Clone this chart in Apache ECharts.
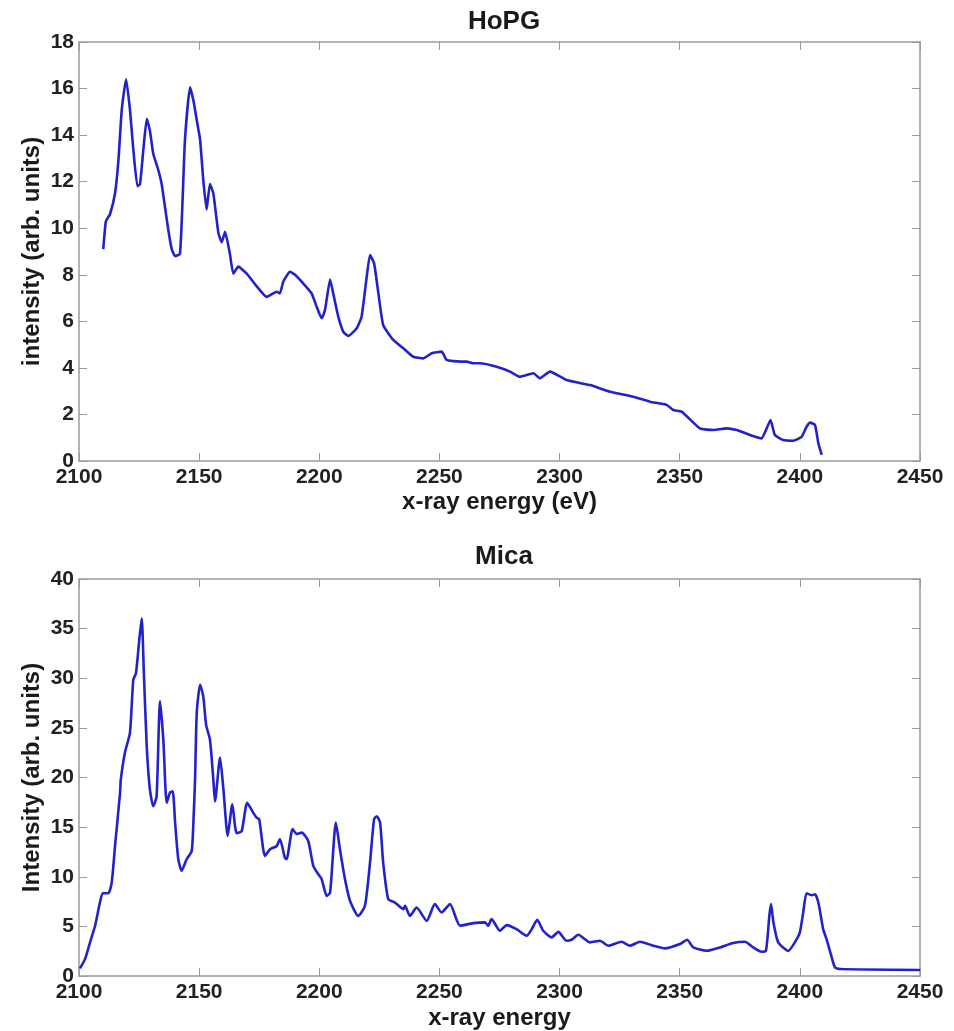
<!DOCTYPE html>
<html>
<head>
<meta charset="utf-8">
<script src="https://cdn.jsdelivr.net/npm/echarts@6/dist/echarts.min.js"></script>
<style>
html,body{margin:0;padding:0;background:#fff;}
#chart{width:954px;height:1031px;}
</style>
</head>
<body>
<div id="chart"></div>
<script>
var hopgEnergy = [2110.1,2111.2,2112.9,2115.0,2116.4,2117.8,2119.6,2121.2,2122.6,2124.3,2125.4,2126.8,2128.2,2129.5,2130.9,2133.0,2134.4,2135.8,2137.2,2138.6,2140.0,2142.0,2143.1,2144.1,2146.2,2147.6,2149.0,2150.4,2151.7,2153.1,2154.5,2155.9,2158.0,2159.4,2160.8,2162.8,2164.2,2166.3,2169.8,2174.0,2178.1,2182.3,2183.6,2185.0,2187.8,2189.9,2193.3,2196.8,2198.9,2201.0,2202.4,2204.5,2205.8,2207.9,2210.0,2212.1,2215.6,2217.6,2219.4,2221.1,2222.8,2224.6,2226.6,2230.8,2235.0,2239.1,2243.3,2246.8,2250.9,2253.0,2258.6,2261.3,2264.1,2266.9,2273.8,2279.4,2283.5,2289.1,2291.8,2296.0,2302.9,2312.7,2321.0,2330.7,2337.6,2344.6,2347.3,2350.8,2358.4,2364.0,2369.5,2373.7,2379.2,2384.1,2385.9,2387.8,2389.6,2393.1,2397.3,2400.7,2402.8,2404.2,2406.3,2407.7,2409.1];
var hopgIntensity = [9.1,10.3,10.6,11.5,12.9,15.1,16.4,15.1,13.4,11.8,11.9,13.4,14.7,14.2,13.2,12.5,11.9,10.9,9.9,9.1,8.8,8.9,11.2,13.8,16.05,15.5,14.65,13.8,12.1,10.8,11.9,11.5,9.8,9.4,9.85,8.9,8.05,8.35,8.05,7.5,7.05,7.27,7.2,7.7,8.13,8.0,7.63,7.2,6.63,6.13,6.5,7.8,7.2,6.2,5.55,5.37,5.7,6.2,7.63,8.85,8.5,7.2,5.84,5.2,4.84,4.48,4.41,4.63,4.7,4.34,4.27,4.27,4.2,4.2,4.05,3.84,3.62,3.77,3.55,3.84,3.48,3.26,2.98,2.76,2.55,2.41,2.19,2.12,1.4,1.33,1.4,1.33,1.12,0.97,1.33,1.76,1.12,0.9,0.87,1.04,1.47,1.65,1.55,0.76,0.26];

var micaEnergy = [2100.4,2102.5,2104.6,2106.7,2108.7,2109.9,2112.2,2113.6,2115.0,2117.1,2117.4,2119.1,2121.2,2122.6,2123.7,2125.1,2126.1,2127.0,2128.2,2129.5,2130.9,2132.3,2133.7,2135.1,2136.5,2137.9,2139.0,2140.0,2141.3,2142.7,2144.8,2146.9,2147.6,2148.3,2149.0,2150.4,2151.7,2152.9,2154.5,2155.9,2156.6,2158.7,2160.1,2161.9,2163.8,2165.6,2167.7,2170.0,2172.5,2173.9,2175.0,2177.4,2179.5,2182.3,2183.6,2185.7,2186.4,2188.9,2190.6,2192.7,2195.4,2197.5,2199.6,2201.0,2203.1,2204.5,2206.9,2208.6,2210.7,2212.8,2216.2,2219.0,2221.1,2222.8,2223.9,2225.3,2226.6,2228.7,2231.5,2235.0,2235.7,2237.7,2240.5,2244.7,2248.1,2250.9,2254.4,2258.6,2264.1,2269.0,2270.3,2271.7,2275.2,2278.0,2282.1,2286.3,2288.4,2290.7,2293.2,2296.7,2299.5,2302.9,2305.0,2307.8,2312.7,2316.8,2320.3,2325.8,2329.3,2333.5,2339.0,2343.9,2350.1,2353.1,2355.6,2361.2,2366.7,2372.3,2377.1,2380.6,2384.1,2385.9,2387.3,2388.0,2389.0,2391.0,2395.2,2398.7,2400.0,2401.4,2402.8,2404.9,2406.3,2407.7,2409.7,2411.1,2412.5,2414.6,2416.7,2450.0];
var micaIntensity = [0.77,1.7,3.4,5.06,7.4,8.34,8.34,9.4,13.1,18.5,19.8,22.5,24.5,29.85,30.5,33.9,36.05,30.5,23.1,18.8,17.1,18.1,27.7,23.8,17.45,18.5,18.6,15.45,11.8,10.6,11.76,12.6,15.45,19.8,26.5,29.35,28.2,25.3,23.8,19.8,17.6,22.0,18.8,14.1,17.3,14.4,14.6,17.45,16.45,15.95,15.8,12.1,12.76,13.1,13.8,11.9,11.76,14.8,14.3,14.45,13.6,11.1,10.25,9.75,8.07,8.4,15.45,12.76,9.75,7.57,6.06,7.07,11.4,15.8,16.1,15.45,11.4,7.74,7.4,6.73,7.07,6.06,6.9,5.56,7.24,6.4,7.24,5.06,5.33,5.4,5.06,5.73,4.56,5.13,4.72,4.05,4.72,5.66,4.56,3.89,4.45,3.55,3.65,4.15,3.39,3.55,3.05,3.45,3.05,3.45,3.05,2.78,3.22,3.65,2.88,2.54,2.88,3.32,3.45,2.88,2.44,2.54,6.06,7.24,5.4,3.39,2.54,3.72,4.39,6.4,8.34,8.14,8.24,7.4,4.72,3.72,2.54,0.87,0.7,0.6];

var hopgYTicks = [0,2,4,6,8,10,12,14,16,18];
var micaYTicks = [0,5,10,15,20,25,30,35,40];
var energyTicks = [2100,2150,2200,2250,2300,2350,2400,2450];

function pairs(xs, ys){ return xs.map(function(x,i){ return [x, ys[i]]; }); }

var FONT = 'Liberation Sans, Arial, sans-serif';
var axisGray = '#9a9a9a';
var lineBlue = '#2222cc';

function mkX(grid, main, name, gap){
  return {
    type:'value', gridIndex:grid, min:energyTicks[0], max:energyTicks[energyTicks.length-1], interval:50,
    position: main ? 'bottom' : 'top',
    name: main ? name : '', nameLocation:'middle', nameGap:gap, nameMoveOverlap:false,
    nameTextStyle:{fontFamily:FONT, fontWeight:'bold', fontSize:24, color:'#1a1a1a'},
    axisLine:{show:true, onZero:false, lineStyle:{color:axisGray, width:1.5}},
    axisTick:{show:true, inside:true, length:8, lineStyle:{color:axisGray}},
    axisLabel:{show:main, margin:6, fontFamily:FONT, fontWeight:'bold', fontSize:21, color:'#222',
      formatter:function(v){ return String(v); }},
    splitLine:{show:false}
  };
}
function mkY(grid, main, name, ticks){
  return {
    type:'value', gridIndex:grid, min:ticks[0], max:ticks[ticks.length-1], interval:ticks[1]-ticks[0],
    position: main ? 'left' : 'right',
    name: main ? name : '', nameLocation:'middle', nameGap:35, nameMoveOverlap:false,
    nameTextStyle:{fontFamily:FONT, fontWeight:'bold', fontSize:24, color:'#1a1a1a'},
    axisLine:{show:true, onZero:false, lineStyle:{color:axisGray, width:1.5}},
    axisTick:{show:true, inside:true, length:8, lineStyle:{color:axisGray}},
    axisLabel:{show:main, margin:5, fontFamily:FONT, fontWeight:'bold', fontSize:21, color:'#222',
      formatter:function(v){ return String(v); }},
    splitLine:{show:false}
  };
}

var chart = echarts.init(document.getElementById('chart'), null, {renderer:'canvas'});
chart.setOption({
  animation:false,
  backgroundColor:'#fff',
  title:[
    {text:'HoPG', left:499, top:4, textAlign:'center', textStyle:{fontFamily:FONT, fontWeight:'bold', fontSize:26, color:'#1a1a1a'}},
    {text:'Mica', left:499, top:539, textAlign:'center', textStyle:{fontFamily:FONT, fontWeight:'bold', fontSize:26, color:'#1a1a1a'}}
  ],
  grid:[
    {left:79, right:34, top:42, height:419},
    {left:79, right:34, top:579, height:398}
  ],
  xAxis:[
    mkX(0,true,'x-ray energy (eV)',29), mkX(0,false,'',29),
    mkX(1,true,'x-ray energy',30), mkX(1,false,'',30)
  ],
  yAxis:[
    mkY(0,true,'intensity (arb. units)',hopgYTicks), mkY(0,false,'',hopgYTicks),
    mkY(1,true,'Intensity (arb. units)',micaYTicks), mkY(1,false,'',micaYTicks)
  ],
  series:[
    {type:'line', xAxisIndex:0, yAxisIndex:0, data:pairs(hopgEnergy,hopgIntensity), showSymbol:false, smooth:0.15,
     lineStyle:{color:lineBlue, width:2.6}},
    {type:'line', xAxisIndex:2, yAxisIndex:2, data:pairs(micaEnergy,micaIntensity), showSymbol:false, smooth:0.2,
     lineStyle:{color:lineBlue, width:2.6}}
  ]
});
</script>
</body>
</html>
